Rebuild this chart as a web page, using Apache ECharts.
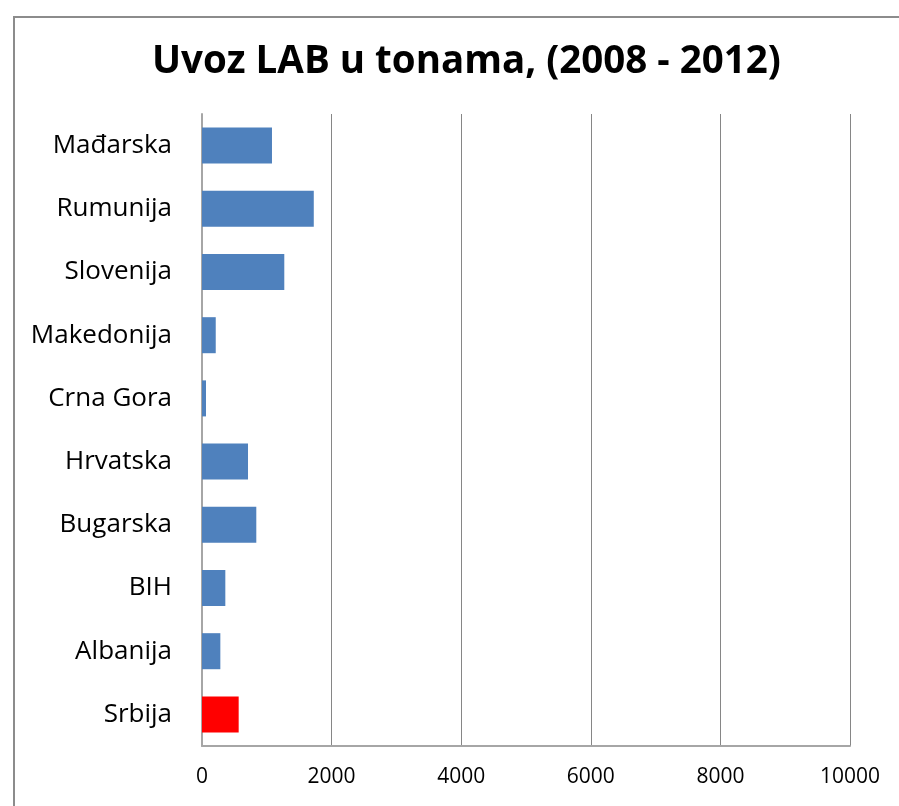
<!DOCTYPE html>
<html>
<head>
<meta charset="utf-8">
<script src="https://cdn.jsdelivr.net/npm/echarts@6/dist/echarts.min.js"></script>
<style>
  html, body { margin: 0; padding: 0; background: #fff; overflow: hidden; }
  #frame { position: absolute; left: 13px; top: 16px; width: 950px; height: 850px; border: 2px solid #8c8c8c; }
  #chart { position: absolute; left: 0; top: 0; width: 899px; height: 806px; }
</style>
</head>
<body>
<div id="frame"></div>
<div id="chart"></div>
<script>
// zemlje, odozgo nadole
const countries = ['Mađarska', 'Rumunija', 'Slovenija', 'Makedonija', 'Crna Gora',
                   'Hrvatska', 'Bugarska', 'BIH', 'Albanija', 'Srbija'];
// uvoz u tonama
const imports = [1080, 1725, 1270, 212, 62, 710, 838, 360, 283, 566];
const highlight = 'Srbija';
const xTicks = [0, 2000, 4000, 6000, 8000, 10000];

const chart = echarts.init(document.getElementById('chart'));

const option = {
    backgroundColor: 'transparent',
    animation: false,
    title: {
        text: 'Uvoz LAB u tonama, (2008 - 2012)',
        left: 147,
        top: 38,
        textStyle: {
            fontFamily: 'Open Sans, sans-serif',
            fontWeight: 'bold',
            fontSize: 38.5,
            color: '#000'
        }
    },
    grid: {
        left: 202,
        right: 49,
        top: 114,
        bottom: 60
    },
    xAxis: {
        type: 'value',
        min: xTicks[0],
        max: xTicks[xTicks.length - 1],
        interval: 2000,
        axisLine: { show: true, lineStyle: { color: '#a6a6a6', width: 2 } },
        axisTick: { show: false },
        splitLine: { show: true, lineStyle: { color: '#868686', width: 1 } },
        axisLabel: {
            margin: 21,
            fontFamily: 'Open Sans, sans-serif',
            fontSize: 21,
            color: '#000',
            formatter: v => String(v)
        }
    },
    yAxis: {
        type: 'category',
        inverse: true,
        data: countries,
        axisLine: { show: true, lineStyle: { color: '#a6a6a6', width: 2 } },
        axisTick: { show: false },
        splitLine: { show: false },
        axisLabel: {
            margin: 30,
            fontFamily: 'Open Sans, sans-serif',
            fontSize: 26,
            color: '#000'
        }
    },
    series: [{
        type: 'bar',
        barCategoryGap: '43%',
        data: imports.map((v, i) => ({
            value: v,
            itemStyle: { color: countries[i] === highlight ? '#ff0000' : '#4f81bd' }
        }))
    }]
};

chart.setOption(option);
</script>
</body>
</html>
